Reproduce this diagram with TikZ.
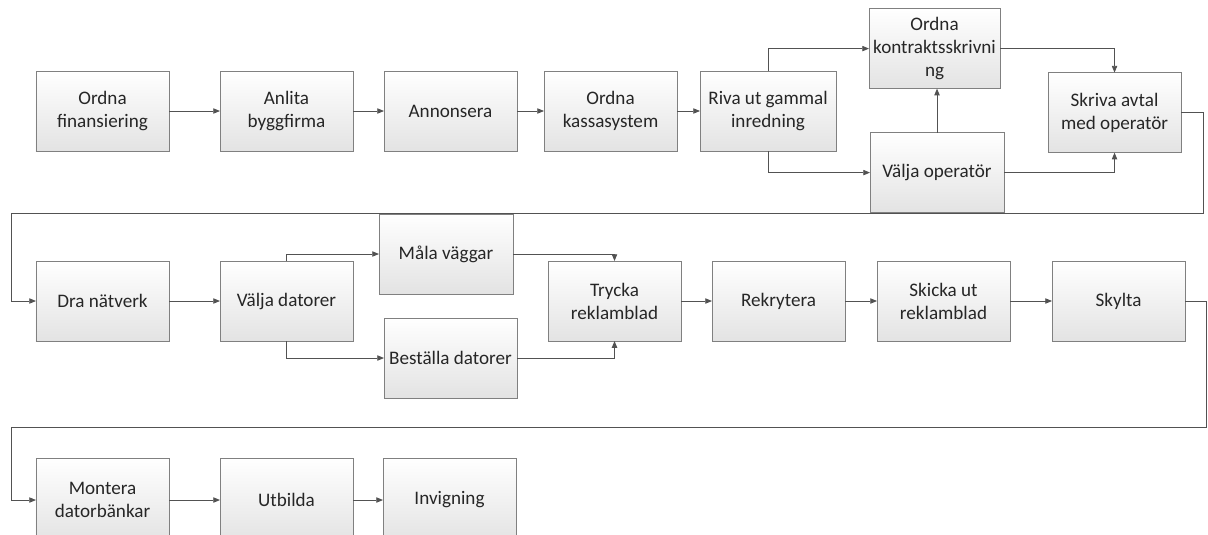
\documentclass[tikz,border=0pt]{standalone}
\usepackage{fontspec}
\setmainfont{Carlito}
\usetikzlibrary{positioning, arrows.meta}
\tikzset{
  task/.style = {draw=black!50, rectangle, align=center, inner sep=2pt,
                 outer sep=0pt, minimum width=33.25mm, minimum height=20mm,
                 top color=white, bottom color=black!11, text=black!85,
                 font=\fontsize{13.6}{16.4}\selectfont, line width=0.6pt},
  ar/.style   = {-{Triangle[length=4.8pt, width=3.8pt]}, draw=black!68,
                 line width=0.6pt},
}

\begin{document}
\begin{tikzpicture}[x=0.25mm, y=-0.25mm]
  \useasboundingbox (0,0) rectangle (1208,534);
  \clip (0,0) rectangle (1208,534);

  % ---- row 1 ----
  \node[task] (fin) at (102.5,111) {Ordna\\finansiering};
  \node[task, right=12.75mm of fin] (anlita) {Anlita\\byggfirma};
  \node[task, right=7.75mm of anlita] (annons) {Annonsera};
  \node[task, right=6.75mm of annons] (kassa) {Ordna\\kassasystem};
  \node[task, right=5.75mm of kassa, minimum width=34mm] (riva) {Riva ut gammal\\inredning};
  \node[task, right=8.25mm of riva, yshift=15.6mm, minimum width=32.75mm] (kontrakt) {Ordna\\kontraktsskrivni\\ng};
  \node[task, right=8.5mm of riva, yshift=-15.4mm, minimum width=33.5mm] (valjop) {Välja operatör};
  \node[task, right=53mm of riva, yshift=-0.4mm] (skriva) {Skriva avtal\\med operatör};
  \draw[ar] (fin) -- (anlita);
  \draw[ar] (anlita) -- (annons);
  \draw[ar] (annons) -- (kassa);
  \draw[ar] (kassa) -- (riva);
  \draw[ar] (riva.north) |- (kontrakt.west);
  \draw[ar] (riva.south) |- (valjop.west);
  \draw[ar] (valjop.north) -- (valjop.north |- kontrakt.south);
  \draw[ar] (kontrakt.east) -| (skriva.north);
  \draw[ar] (valjop.east) -| (skriva.south);

  % ---- row 2 ----
  \node[task, below=27.5mm of fin] (dra) {Dra nätverk};
  \node[task, right=12.75mm of dra] (valjdat) {Välja datorer};
  \node[task, right=6.5mm of valjdat, yshift=11.75mm, minimum width=33.5mm] (mala) {Måla väggar};
  \node[task, right=7.75mm of valjdat, yshift=-14.25mm] (best) {Beställa datorer};
  \node[task, right=48.75mm of valjdat] (trycka) {Trycka\\reklamblad};
  \node[task, right=7.75mm of trycka] (rekr) {Rekrytera};
  \node[task, right=8mm of rekr] (skicka) {Skicka ut\\reklamblad};
  \node[task, right=10.5mm of skicka] (skylta) {Skylta};
  \coordinate (r1) at (1203,213);
  \coordinate (l1) at (11,213);
  \draw[ar] (skriva.east) -| (r1) -- (l1) |- (dra.west);
  \draw[ar] (dra) -- (valjdat);
  \draw[ar] (valjdat.north) |- (mala.west);
  \draw[ar] (valjdat.south) |- (best.west);
  \draw[ar] (mala.east) -| (trycka.north);
  \draw[ar] (best.east) -| (trycka.south);
  \draw[ar] (trycka) -- (rekr);
  \draw[ar] (rekr) -- (skicka);
  \draw[ar] (skicka) -- (skylta);

  % ---- row 3 ----
  \node[task, below=29.25mm of dra, minimum height=21mm] (montera) {Montera\\datorbänkar};
  \node[task, right=12.75mm of montera, minimum height=21mm] (utbilda) {Utbilda};
  \node[task, right=7.5mm of utbilda, minimum height=21mm] (invig) {Invigning};
  \coordinate (r2) at (1206.5,427);
  \coordinate (l2) at (11,427);
  \draw[ar] (skylta.east) -| (r2) -- (l2) |- (montera.west);
  \draw[ar] (montera) -- (utbilda);
  \draw[ar] (utbilda) -- (invig);
\end{tikzpicture}
\end{document}
